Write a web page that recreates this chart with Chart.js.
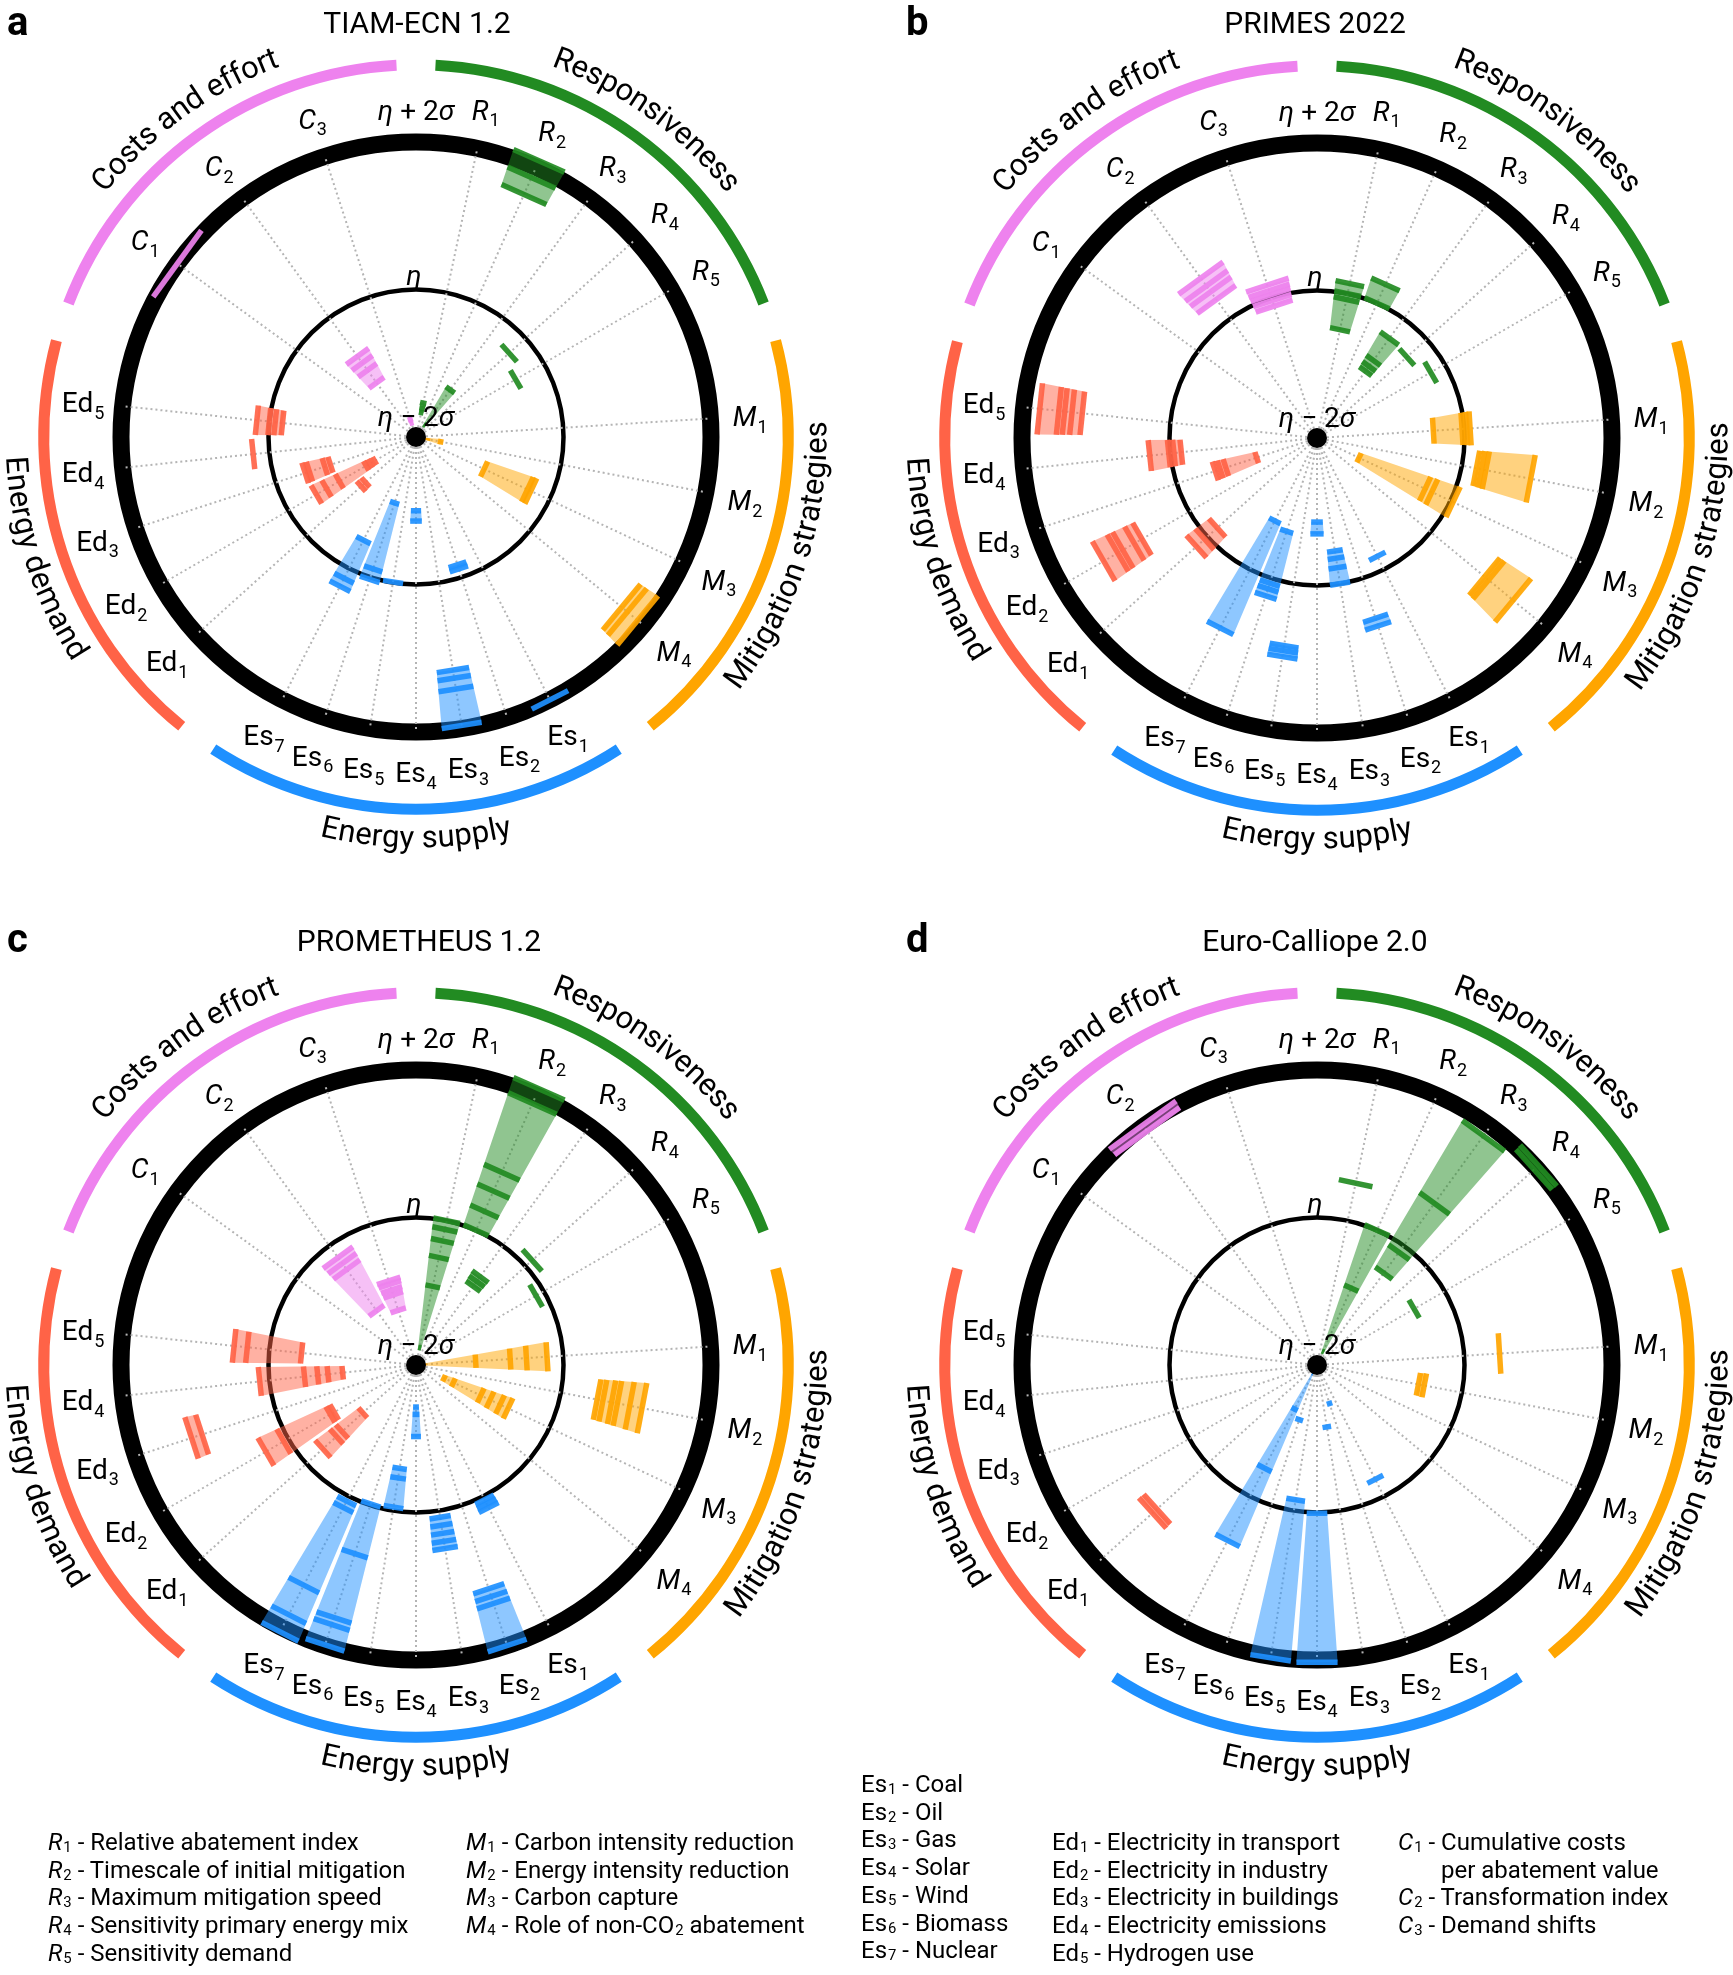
<!DOCTYPE html>
<html>
<head>
<meta charset="utf-8">
<script src="https://cdn.jsdelivr.net/npm/chart.js@4.4.1/dist/chart.umd.min.js"></script>
<style>
html,body{margin:0;padding:0;background:#fff;}
body{width:1733px;height:1975px;position:relative;overflow:hidden;font-family:Roboto,"Noto Sans",sans-serif;color:#000;}
canvas{position:absolute;}
.title{position:absolute;width:600px;text-align:center;font-size:30px;line-height:34px;white-space:nowrap;}
.letter{position:absolute;font-weight:700;font-size:40px;line-height:40px;}
.legend{position:absolute;font-size:24px;line-height:27.7px;white-space:nowrap;}
.legend sub{font-size:0.62em;position:relative;top:0.14em;vertical-align:baseline;line-height:0;margin-left:1px;}
.legend .ind{padding-left:43px;}
</style>
</head>
<body>
<canvas id="pa" width="832" height="927" style="left:0px;top:0px"></canvas>
<canvas id="pb" width="832" height="927" style="left:901px;top:1px"></canvas>
<canvas id="pc" width="832" height="927" style="left:0px;top:928px"></canvas>
<canvas id="pd" width="832" height="927" style="left:901px;top:928px"></canvas>
<div id="overlay"></div>
<script>
// ---------------- DATA ----------------
const categoryLabels = ['R1','R2','R3','R4','R5','M1','M2','M3','M4',
  'Es1','Es2','Es3','Es4','Es5','Es6','Es7','Ed1','Ed2','Ed3','Ed4','Ed5','C1','C2','C3'];
const groupNames = ['Responsiveness','Mitigation strategies','Energy supply','Energy demand','Costs and effort'];
const groupSizes = [5, 4, 7, 5, 3];
const groupColors = ['#228B22', '#FFA500', '#1E90FF', '#FF6347', '#EE82EE'];
const panelTitles = ['TIAM-ECN 1.2', 'PRIMES 2022', 'PROMETHEUS 1.2', 'Euro-Calliope 2.0'];
const panelLetters = ['a', 'b', 'c', 'd'];
const radialTicks = [-2, 0, 2];
const tickNames = ['η − 2σ', 'η', 'η + 2σ'];

// values in units of sigma relative to eta (centre = η − 2σ, outer ring = η + 2σ)
const tiamValues = [
  [-1.66, -1.6, -1.53], [1.6, 1.85, 2.1], [-1.8, -1.21], [-0.3], [-0.44],
  [], [-1.84, -1.66], [-0.98, -0.33, -0.28], [1.62, 1.72, 1.9],
  [2.0], [-0.18, -0.12], [1.2, 1.31, 1.46, 1.96], [-1.0, -0.86], [-0.01], [-1.06, -0.12, 0.03], [-0.43, 0.15, 0.27],
  [-1.08, -1.0], [-1.35, -1.28, -1.22, -0.8, -0.6, -0.44], [-0.78, -0.7, -0.48, -0.42], [0.22], [-0.18, -0.08, 0.0, 0.17],
  [2.0], [-1.09, -0.88, -0.76, -0.65], [-1.8, -1.75]
];
const primesValues = [
  [-0.5, -0.08, 0.0, 0.14], [0.0, 0.28], [-0.88, -0.8, -0.7, -0.33], [-0.36], [-0.22],
  [-0.42, -0.03, 0.03, 0.08], [0.2, 0.27, 0.33, 0.95], [-1.37, -0.38, -0.28, 0.04], [0.95, 1.02, 1.45],
  [-0.2], [0.57, 0.68], [-0.45, -0.35, -0.22, 0.0], [-0.86, -0.7], [0.85, 0.92, 1.0], [-0.67, 0.07, 0.15, 0.25], [-0.74, 0.89],
  [-0.18, 0.05, 0.2], [0.74, 0.86, 1.04, 1.12, 1.34], [-1.14, -0.7, -0.62, -0.55], [-0.15, -0.05, 0.02, 0.28], [1.2, 1.34, 1.44, 1.52, 1.78],
  [], [0.32, 0.45, 0.55, 0.68], [-0.12, -0.04, 0.04, 0.1, 0.18]
];
const prometheusValues = [
  [-1.76, -0.91, -0.51, -0.28, -0.12, 0.0], [0.0, 0.28, 0.58, 0.86, 1.88, 2.1], [-0.68, -0.6, -0.52], [0.12], [-0.12],
  [-1.89, -1.19, -0.72, -0.5, -0.22], [0.5, 0.58, 0.7, 0.78, 0.95, 1.12], [-1.58, -1.44, -1.03, -0.89, -0.74, -0.62], [],
  [0.05, 0.11, 0.17], [1.19, 1.3, 1.4, 2.0], [0.09, 0.2, 0.31, 0.42, 0.52], [-1.43, -1.33, -1.03], [-0.58, -0.45, -0.05], [-0.02, 0.69, 1.6, 1.7, 1.99], [0.07, 0.17, 1.35, 1.8, 2.06],
  [-1.03, -0.65, -0.55, -0.3], [-0.72, -0.66, 0.07, 0.35], [1.05, 1.2], [-1.0, -0.8, -0.66, -0.48, 0.13], [-0.44, 0.3, 0.48],
  [], [-1.09, -0.4, -0.3, -0.2], [-1.22, -1.0, -0.93, -0.85, -0.8]
];
const calliopeValues = [
  [0.52], [-1.8, -0.86, 0.0], [-0.46, -0.11, 0.71, 1.84], [1.96, 2.04], [-0.48],
  [0.48], [-0.6, -0.52], [], [],
  [-0.26], [-1.45], [-1.15], [0.01, 2.03], [-0.15, 2.02], [-1.22], [-1.88, -1.33, -0.43, 0.67],
  [0.92, 1.0], [], [], [], [],
  [], [1.92, 2.02], []
];
const panelValues = [tiamValues, primesValues, prometheusValues, calliopeValues];

const legendR = [['R','1','Relative abatement index'],['R','2','Timescale of initial mitigation'],['R','3','Maximum mitigation speed'],['R','4','Sensitivity primary energy mix'],['R','5','Sensitivity demand']];
const legendM = [['M','1','Carbon intensity reduction'],['M','2','Energy intensity reduction'],['M','3','Carbon capture'],['M','4','Role of non-CO<sub>2</sub> abatement']];
const legendEs = [['Es','1','Coal'],['Es','2','Oil'],['Es','3','Gas'],['Es','4','Solar'],['Es','5','Wind'],['Es','6','Biomass'],['Es','7','Nuclear']];
const legendEd = [['Ed','1','Electricity in transport'],['Ed','2','Electricity in industry'],['Ed','3','Electricity in buildings'],['Ed','4','Electricity emissions'],['Ed','5','Hydrogen use']];
const legendC = [['C','1','Cumulative costs'],['','','per abatement value'],['C','2','Transformation index'],['C','3','Demand shifts']];

// ---------------- LAYOUT ----------------
const FONT = 'Roboto, "Noto Sans", sans-serif';
const STEPS = 600;                       // fine angular grid of the radial scale
const GROUP_SPAN = STEPS / groupSizes.length;
const WEDGE_FRACTION = 0.88;
const positions = [];
const posGroup = new Array(STEPS).fill(-1);
const posHalfWidth = new Array(STEPS).fill(0);
groupSizes.forEach((n, g) => {
  for (let k = 0; k < n; k++) {
    const p = g * GROUP_SPAN + (k + 1) * GROUP_SPAN / (n + 1);
    positions.push(p);
    posGroup[p] = g;
    posHalfWidth[p] = 0.5 * WEDGE_FRACTION * (GROUP_SPAN / (n + 1)) * 2 * Math.PI / STEPS;
  }
});
const spokeLabels = new Array(STEPS).fill('');
spokeLabels[0] = tickNames[2];
positions.forEach((p, i) => { spokeLabels[p] = categoryLabels[i]; });

function rgba(hex, a) {
  const n = parseInt(hex.slice(1), 16);
  return `rgba(${(n >> 16) & 255},${(n >> 8) & 255},${n & 255},${a})`;
}

function drawRich(ctx, parts, x, y, size) {
  let total = 0;
  const items = parts.map(p => {
    const fs = p.sub ? Math.round(size * 0.66) : size;
    const font = `${p.italic ? 'italic ' : ''}${fs}px ${FONT}`;
    ctx.font = font;
    const w = ctx.measureText(p.t).width + (p.sub ? 1 : 0);
    total += w;
    return {p, font, w, fs};
  });
  let cx = x - total / 2;
  ctx.textAlign = 'left';
  ctx.textBaseline = 'alphabetic';
  const base = y + size * 0.36;
  items.forEach(it => {
    ctx.font = it.font;
    ctx.fillText(it.p.t, cx + (it.p.sub ? 1 : 0), it.p.sub ? base + size * 0.24 : base);
    cx += it.w;
  });
}

function drawArcText(ctx, text, cx, cy, r, mid, outward, font) {
  ctx.save();
  ctx.font = font;
  ctx.textAlign = 'center';
  ctx.textBaseline = 'middle';
  ctx.fillStyle = '#000';
  const chars = [...text];
  const widths = chars.map(ch => ctx.measureText(ch).width);
  const total = widths.reduce((a, b) => a + b, 0);
  let acc = 0;
  chars.forEach((ch, i) => {
    const off = (acc + widths[i] / 2 - total / 2) / r;
    const a = outward ? mid + off : mid - off;
    ctx.save();
    ctx.translate(cx + r * Math.cos(a), cy + r * Math.sin(a));
    ctx.rotate(outward ? a + Math.PI / 2 : a - Math.PI / 2);
    ctx.fillText(ch, 0, 0);
    ctx.restore();
    acc += widths[i];
  });
  ctx.restore();
}

const panelData = {};

const decorPlugin = {
  id: 'decor',
  beforeDatasetsDraw(chart) {
    const values = panelData[chart.canvas.id];
    const s = chart.scales.r;
    const ctx = chart.ctx;
    ctx.save();
    values.forEach((v, ci) => {
      if (v.length < 2) return;
      const p = positions[ci];
      const a = s.getIndexAngle(p) - Math.PI / 2;
      const hw = posHalfWidth[p];
      const r0 = s.getDistanceFromCenterForValue(Math.min(...v));
      const r1 = s.getDistanceFromCenterForValue(Math.max(...v));
      ctx.beginPath();
      ctx.arc(s.xCenter, s.yCenter, r1, a - hw, a + hw);
      ctx.arc(s.xCenter, s.yCenter, r0, a + hw, a - hw, true);
      ctx.closePath();
      ctx.fillStyle = rgba(groupColors[posGroup[p]], 0.5);
      ctx.fill();
    });
    ctx.restore();
  },
  afterDatasetsDraw(chart) {
    const s = chart.scales.r;
    const ctx = chart.ctx;
    const R = s.drawingArea;
    ctx.save();
    ctx.fillStyle = '#000';
    positions.forEach((p, i) => {
      const lab = categoryLabels[i];
      const base = lab.replace(/\d+$/, '');
      const sub = lab.slice(base.length);
      const pt = s.getPointPosition(p, R * 1.135);
      drawRich(ctx, [{t: base, italic: ['R', 'M', 'C'].includes(base)}, {t: sub, sub: true}], pt.x, pt.y, 28);
    });
    const top = s.getPointPosition(0, R * 1.108);
    drawRich(ctx, [{t: 'η', italic: true}, {t: ' + 2'}, {t: 'σ', italic: true}], top.x, top.y, 28);
    const dEta = s.getDistanceFromCenterForValue(radialTicks[1]);
    drawRich(ctx, [{t: 'η', italic: true}], s.xCenter - 2, s.yCenter - dEta - 15, 28);
    drawRich(ctx, [{t: 'η', italic: true}, {t: ' − 2'}, {t: 'σ', italic: true}], s.xCenter, s.yCenter - 21, 28);
    const gap = 5;
    groupNames.forEach((name, g) => {
      const a0 = s.getIndexAngle(g * GROUP_SPAN + gap) - Math.PI / 2;
      const a1 = s.getIndexAngle((g + 1) * GROUP_SPAN - gap) - Math.PI / 2;
      ctx.beginPath();
      ctx.arc(s.xCenter, s.yCenter, R * 1.262, a0, a1 < a0 ? a1 + 2 * Math.PI : a1);
      ctx.strokeStyle = groupColors[g];
      ctx.lineWidth = 11;
      ctx.lineCap = 'butt';
      ctx.stroke();
      const midIdx = g * GROUP_SPAN + GROUP_SPAN / 2;
      const mid = s.getIndexAngle(midIdx) - Math.PI / 2;
      const deg = midIdx * 360 / STEPS;
      const outward = deg < 90 || deg > 270;
      drawArcText(ctx, name, s.xCenter, s.yCenter, R * 1.365, mid, outward, `31px ${FONT}`);
    });
    ctx.restore();
  }
};

function markRadius(c) {
  if (c.raw === null || c.raw === undefined) return 0;
  const s = c.chart.scales.r;
  return s.getDistanceFromCenterForValue(c.raw) * Math.tan(posHalfWidth[c.dataIndex]);
}
function markRotation(c) {
  return c.chart.scales.r.getIndexAngle(c.dataIndex) * 180 / Math.PI;
}
function markColor(c) {
  const g = posGroup[c.dataIndex];
  return g < 0 ? 'rgba(0,0,0,0)' : rgba(groupColors[g], 0.92);
}

function buildDatasets(values) {
  const ds = [];
  const centre = new Array(STEPS).fill(null);
  centre[0] = radialTicks[0];
  ds.push({data: centre, showLine: false, fill: false, clip: false, pointStyle: 'circle',
    pointRadius: 10, pointHoverRadius: 10, pointBackgroundColor: '#000', pointBorderWidth: 0});
  const maxMarks = Math.max(...values.map(v => v.length));
  for (let j = 0; j < maxMarks; j++) {
    const data = new Array(STEPS).fill(null);
    values.forEach((v, ci) => { if (v[j] !== undefined) data[positions[ci]] = v[j]; });
    ds.push({data, showLine: false, fill: false, clip: false, pointStyle: 'line',
      pointRadius: markRadius, pointHoverRadius: markRadius, pointRotation: markRotation,
      pointBorderColor: markColor, pointBackgroundColor: markColor, pointBorderWidth: 5.5, pointHitRadius: 0});
  }
  return ds;
}

['pa', 'pb', 'pc', 'pd'].forEach((id, i) => {
  panelData[id] = panelValues[i];
  new Chart(document.getElementById(id), {
    type: 'radar',
    data: {labels: spokeLabels, datasets: buildDatasets(panelValues[i])},
    plugins: [decorPlugin],
    options: {
      responsive: false,
      animation: false,
      events: [],
      layout: {padding: {left: 121, right: 121, top: 142, bottom: 195}},
      plugins: {legend: {display: false}, tooltip: {enabled: false}},
      scales: {
        r: {
          min: radialTicks[0], max: radialTicks[2],
          ticks: {display: false, stepSize: 2},
          pointLabels: {display: false},
          grid: {
            circular: true, color: '#000',
            lineWidth: c => (c.tick && c.tick.value === radialTicks[2]) ? 17 : ((c.tick && c.tick.value === radialTicks[1]) ? 4.5 : 0)
          },
          angleLines: {
            display: true, color: '#b4b4b4', borderDash: [2, 3],
            lineWidth: c => (c.index > 0 && c.label !== '') ? 2 : 0
          }
        }
      }
    }
  });
});

// ---------------- TEXT OVERLAY ----------------
const overlay = document.getElementById('overlay');
const panelCenters = [[417, 23], [1315, 23], [419, 941], [1315, 941]];
const letterPos = [[7, 2], [906, 2], [7, 919], [906, 919]];
panelTitles.forEach((t, i) => {
  const d = document.createElement('div');
  d.className = 'title';
  d.textContent = t;
  d.style.left = (panelCenters[i][0] - 300) + 'px';
  d.style.top = (panelCenters[i][1] - 17) + 'px';
  overlay.appendChild(d);
  const l = document.createElement('div');
  l.className = 'letter';
  l.textContent = panelLetters[i];
  l.style.left = letterPos[i][0] + 'px';
  l.style.top = letterPos[i][1] + 'px';
  overlay.appendChild(l);
});
function legendColumn(items, x, y) {
  const d = document.createElement('div');
  d.className = 'legend';
  d.style.left = x + 'px';
  d.style.top = y + 'px';
  d.innerHTML = items.map(([b, s, txt]) => {
    if (!b) return `<div class="ind">${txt}</div>`;
    const bb = ['R', 'M', 'C'].includes(b) ? `<i>${b}</i>` : b;
    return `<div>${bb}<sub>${s}</sub> - ${txt}</div>`;
  }).join('');
  overlay.appendChild(d);
}
legendColumn(legendR, 48, 1829);
legendColumn(legendM, 466, 1829);
legendColumn(legendEs, 861, 1771);
legendColumn(legendEd, 1052, 1829);
legendColumn(legendC, 1398, 1829);
</script>
</body>
</html>
